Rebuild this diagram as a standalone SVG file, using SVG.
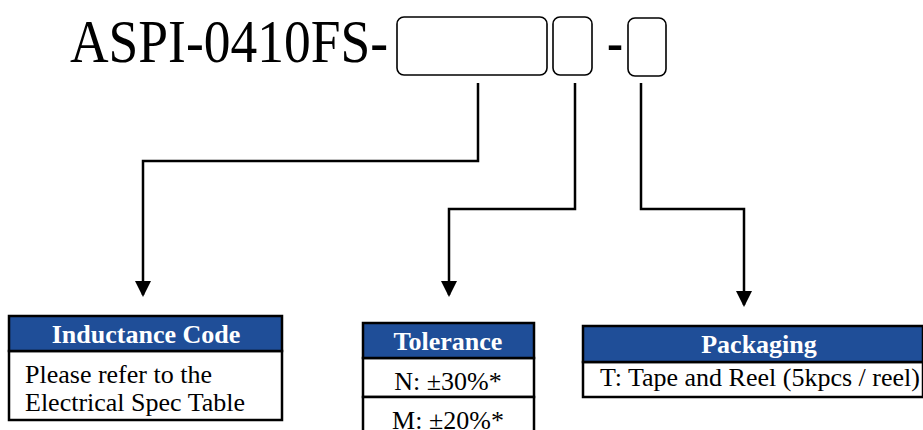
<svg xmlns="http://www.w3.org/2000/svg" width="923" height="430" viewBox="0 0 923 430">
<style>
.title{font-family:"Liberation Serif","Times New Roman",serif;font-size:62px;fill:#000}
.hdr{fill:#1F4E98;stroke:#000;stroke-width:2.5}
.cell{fill:#fff;stroke:#000;stroke-width:2.5}
.ht{font-family:"Liberation Serif","Times New Roman",serif;font-size:26px;font-weight:bold;fill:#fff;text-anchor:middle}
.bt{font-family:"Liberation Serif","Times New Roman",serif;font-size:26px;fill:#000}
.slot{fill:none;stroke:#000;stroke-width:1.6}
.conn{fill:none;stroke:#000;stroke-width:2.5}
</style>
<defs>
<marker id="arr" markerUnits="userSpaceOnUse" markerWidth="16" markerHeight="16" viewBox="0 0 16 16" refX="14" refY="8" orient="auto">
<path d="M0,0 L16,8 L0,16 Z" fill="#000"/>
</marker>
</defs>
<g id="partnumber">
<text class="title" x="70" y="62" textLength="318" lengthAdjust="spacingAndGlyphs">ASPI-0410FS-</text>
<rect class="slot" x="397" y="17" width="150" height="58" rx="7"/>
<rect class="slot" x="553" y="17" width="39" height="58" rx="7"/>
<text class="title" x="607" y="62" textLength="16" lengthAdjust="spacingAndGlyphs">-</text>
<rect class="slot" x="628" y="18" width="38" height="58" rx="7"/>
</g>
<g id="connectors">
<path class="conn" d="M478,83 V161 H143 V295" marker-end="url(#arr)"/>
<path class="conn" d="M575,83 V209 H449 V295" marker-end="url(#arr)"/>
<path class="conn" d="M641,83 V209 H744 V305" marker-end="url(#arr)"/>
</g>
<g id="inductance">
<rect class="cell" x="9" y="351" width="273" height="69"/>
<rect class="hdr" x="9" y="316" width="273" height="35"/>
<text class="ht" x="146" y="343">Inductance Code</text>
<text class="bt" x="25" y="383">Please refer to the</text>
<text class="bt" x="25" y="411">Electrical Spec Table</text>
</g>
<g id="tolerance">
<rect class="cell" x="363" y="358" width="171" height="39"/>
<rect class="cell" x="363" y="397" width="171" height="39"/>
<rect class="hdr" x="363" y="323" width="171" height="35"/>
<text class="ht" x="448" y="350">Tolerance</text>
<text class="bt" x="448" y="390" text-anchor="middle">N: ±30%*</text>
<text class="bt" x="448" y="429" text-anchor="middle">M: ±20%*</text>
</g>
<g id="packaging">
<rect class="cell" x="583" y="362" width="340" height="35"/>
<rect class="hdr" x="583" y="326" width="340" height="36"/>
<text class="ht" x="759" y="353">Packaging</text>
<text class="bt" x="760" y="386" text-anchor="middle">T: Tape and Reel (5kpcs / reel)</text>
</g>
</svg>
